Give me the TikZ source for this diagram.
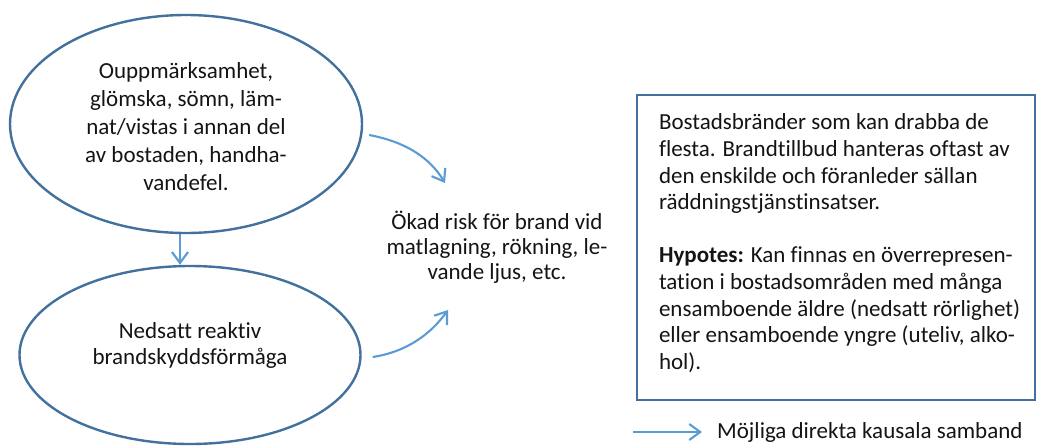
\documentclass[tikz,border=0pt]{standalone}
\usepackage{fontspec}
\setmainfont{Carlito}[Ligatures=NoCommon]
\usetikzlibrary{arrows.meta,shapes.geometric}
\definecolor{ovalblue}{HTML}{41719C}
\definecolor{arrowblue}{HTML}{5B9BD5}
\definecolor{txtgray}{HTML}{141414}
\begin{document}
\begin{tikzpicture}[x=1pt,y=-1pt,
  oval/.style={ellipse, draw=ovalblue, line width=2.4pt, inner sep=0pt},
  txt/.style={align=center, text=txtgray, inner sep=0pt},
  boxtxt/.style={align=left, text=txtgray, inner sep=0pt, font=\fontsize{23}{26.6}\selectfont},
  arr/.style={draw=arrowblue, line width=2.1pt, -{Straight Barb[length=11pt,width=16pt]}},
  ]
\useasboundingbox (0,0) rectangle (1037,445);

% ellipses
\node[oval, minimum width=352pt, minimum height=218pt] (top) at (186,124) {};
\node[txt, font=\fontsize{23}{28}\selectfont] (toptext) at (186,127)
  {Ouppmärksamhet,\\ glömska, sömn, läm-\\ nat/vistas i annan del\\ av bostaden, handha-\\ vandefel.};

\node[oval, minimum width=341pt, minimum height=178pt] (bot) at (190,355) {};
\node[txt, font=\fontsize{23}{26}\selectfont] (bottext) at (190,345)
  {Nedsatt reaktiv\\ brandskyddsförmåga};

% middle text
\node[txt, font=\fontsize{23}{25}\selectfont] (mid) at (497,247)
  {Ökad risk för brand vid\\ matlagning, rökning, le-\\ vande ljus, etc.};

% box
\node[draw=ovalblue, line width=2.4pt, minimum width=398pt, minimum height=305pt,
      anchor=north west, inner sep=0pt] (box) at (635.8,93.8) {};
\node[boxtxt, anchor=north west] (boxtext) at ([shift={(23,20)}]box.north west)
  {Bostadsbränder som kan drabba de\\
   flesta. Brandtillbud hanteras oftast av\\
   den enskilde och föranleder sällan\\
   räddningstjänstinsatser.\\[26.6pt]
   \textbf{Hypotes:} Kan finnas en överrepresen-\\
   tation i bostadsområden med många\\
   ensamboende äldre (nedsatt rörlighet)\\
   eller ensamboende yngre (uteliv, alko-\\
   hol).};

% legend
\node[txt, anchor=west, font=\fontsize{23}{28}\selectfont] (legend) at (717,432)
  {Möjliga direkta kausala samband};
\coordinate (legstart) at (633,432);
\draw[arr] (legstart) -- ([xshift=-15pt]legend.west);

% connectors
\draw[arr] ([xshift=-6pt]top.south) -- ([xshift=-10pt]bot.north);
\coordinate (aEnd) at (445,183);
\draw[arr] ([shift={(6,11)}]top.east) .. controls +(37,7) and +(-15,-25) .. (aEnd);
\coordinate (bEnd) at (448,310);
\draw[arr] ([shift={(11,2)}]bot.east) .. controls +(33,-5) and +(-18,25) .. (bEnd);
\end{tikzpicture}
\end{document}
